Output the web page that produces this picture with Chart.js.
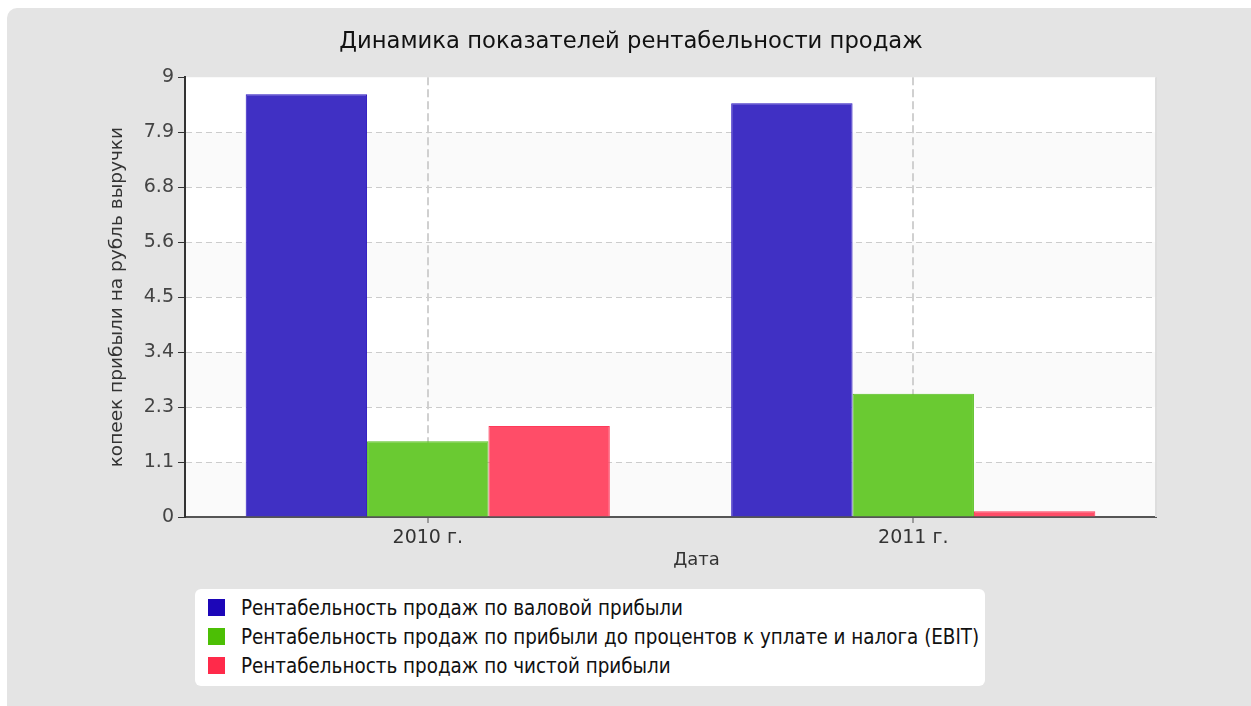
<!DOCTYPE html>
<html>
<head>
<meta charset="utf-8">
<script src="https://cdn.jsdelivr.net/npm/chart.js@4/dist/chart.umd.min.js"></script>
<style>
  html, body { margin: 0; padding: 0; background: #ffffff; }
  #wrap { position: relative; width: 1251px; height: 706px; overflow: hidden; }
  #bg { position: absolute; left: 7px; top: 8px; width: 1260px; height: 720px; background: #e4e4e4; border-radius: 10px; }
  #c { position: absolute; left: 0; top: 0; }
  #legend { position: absolute; left: 195px; top: 589px; width: 790px; height: 97px; background: #ffffff; border-radius: 6px;
            font-family: "DejaVu Sans Condensed", "DejaVu Sans", sans-serif; font-size: 20.4px; color: #111; }
  .li { position: absolute; left: 13px; height: 29px; display: flex; align-items: center; white-space: nowrap; }
  .sw { width: 17px; height: 17px; margin-right: 16px; flex: none; }
</style>
</head>
<body>
<div id="wrap">
  <div id="bg"></div>
  <canvas id="c" width="1251" height="706"></canvas>
  <div id="legend"></div>
</div>
<script>
const chartTitle = 'Динамика показателей рентабельности продаж';
const yAxisTitle = 'копеек прибыли на рубль выручки';
const xAxisTitle = 'Дата';
const categories = ['2010 г.', '2011 г.'];
const seriesNames = [
  'Рентабельность продаж по валовой прибыли',
  'Рентабельность продаж по прибыли до процентов к уплате и налога (EBIT)',
  'Рентабельность продаж по чистой прибыли'
];
const grossMargin = [8.65, 8.47];
const ebitMargin = [1.55, 2.52];
const netMargin = [1.86, 0.12];
const yMax = 9;
const yTickLabels = ['0', '1.1', '2.3', '3.4', '4.5', '5.6', '6.8', '7.9', '9'];

const fillColors = ['rgba(64,48,196,1)', 'rgba(106,202,50,1)', 'rgba(255,77,104,1)'];
const borderColors = ['#2a14c0', '#55bf1e', '#ff3a5a'];
const legendColors = ['#1c06b8', '#4cbf05', '#ff2a4a'];
const FONT = '"DejaVu Sans", Verdana, sans-serif';

const bandsPlugin = {
  id: 'bands',
  beforeDraw(chart) {
    const {ctx, chartArea: a, scales: {y}} = chart;
    ctx.save();
    ctx.fillStyle = '#ffffff';
    ctx.fillRect(a.left, a.top, a.right - a.left, a.bottom - a.top);
    ctx.fillStyle = '#fafafa';
    const t = y.ticks;
    for (let i = 0; i < t.length - 1; i += 2) {
      const y0 = y.getPixelForValue(t[i].value);
      const y1 = y.getPixelForValue(t[i + 1].value);
      ctx.fillRect(a.left, y1, a.right - a.left, y0 - y1);
    }
    ctx.restore();
  },
  afterDraw(chart) {
    const {ctx, chartArea: a} = chart;
    ctx.save();
    ctx.strokeStyle = '#dddddd';
    ctx.lineWidth = 2;
    ctx.beginPath();
    ctx.moveTo(a.right, a.top);
    ctx.lineTo(a.right, a.bottom);
    ctx.stroke();
    ctx.font = '18px ' + FONT;
    ctx.fillStyle = '#333333';
    ctx.textAlign = 'center';
    ctx.textBaseline = 'middle';
    ctx.fillText(xAxisTitle, (a.left + a.right) / 2 + 26, a.bottom + 43);
    ctx.restore();
  }
};

const datasets = [grossMargin, ebitMargin, netMargin].map((d, i) => ({
  label: seriesNames[i],
  data: d,
  backgroundColor: fillColors[i],
  borderColor: borderColors[i],
  borderWidth: 1,
  borderSkipped: 'bottom'
}));

const chart = new Chart(document.getElementById('c'), {
  type: 'bar',
  data: { labels: categories, datasets },
  options: {
    responsive: false,
    animation: false,
    layout: { padding: { left: 106, right: 95, top: 0, bottom: 129 } },
    datasets: { bar: { categoryPercentage: 0.75, barPercentage: 1.0 } },
    plugins: {
      legend: { display: false },
      tooltip: { enabled: false },
      title: {
        display: true,
        text: chartTitle,
        color: '#111111',
        font: { family: FONT, size: 22.7, weight: 'normal' },
        padding: { top: 28, bottom: 22 }
      }
    },
    scales: {
      x: {
        afterFit(s) { s.height = 60; },
        grid: {
          offset: false,
          color: '#d0d0d0',
          lineWidth: 2,
          tickColor: '#555555',
          tickLength: 6,
          tickBorderDash: [],
          tickWidth: 1
        },
        border: { display: true, color: '#555555', width: 2, dash: [8, 4] },
        ticks: {
          color: '#333333',
          padding: 4,
          font: { family: FONT, size: 19 }
        }
      },
      y: {
        min: 0,
        max: yMax,
        afterFit(s) { s.width = 79; },
        afterBuildTicks(s) {
          s.ticks = yTickLabels.map((l, i) => ({ value: yMax * i / (yTickLabels.length - 1) }));
        },
        grid: {
          color: (c) => (c.index === yTickLabels.length - 1 ? 'rgba(0,0,0,0)' : '#cccccc'),
          lineWidth: 1,
          tickColor: '#333333',
          tickLength: 7,
          tickBorderDash: [],
          tickWidth: 1
        },
        border: { display: true, color: '#333333', width: 2, dash: [6, 4] },
        ticks: {
          color: '#444444',
          padding: 4,
          font: { family: FONT, size: 19 },
          callback: (v, i) => yTickLabels[i]
        },
        title: {
          display: true,
          text: yAxisTitle,
          color: '#333333',
          padding: { top: 0, bottom: 0 },
          font: { family: FONT, size: 18.5 }
        }
      }
    }
  },
  plugins: [bandsPlugin]
});

const legendEl = document.getElementById('legend');
chart.data.datasets.forEach((ds, i) => {
  const row = document.createElement('div');
  row.className = 'li';
  row.style.top = (4 + i * 29) + 'px';
  const sw = document.createElement('span');
  sw.className = 'sw';
  sw.style.background = legendColors[i];
  const tx = document.createElement('span');
  tx.textContent = ds.label;
  row.appendChild(sw);
  row.appendChild(tx);
  legendEl.appendChild(row);
});
</script>
</body>
</html>
